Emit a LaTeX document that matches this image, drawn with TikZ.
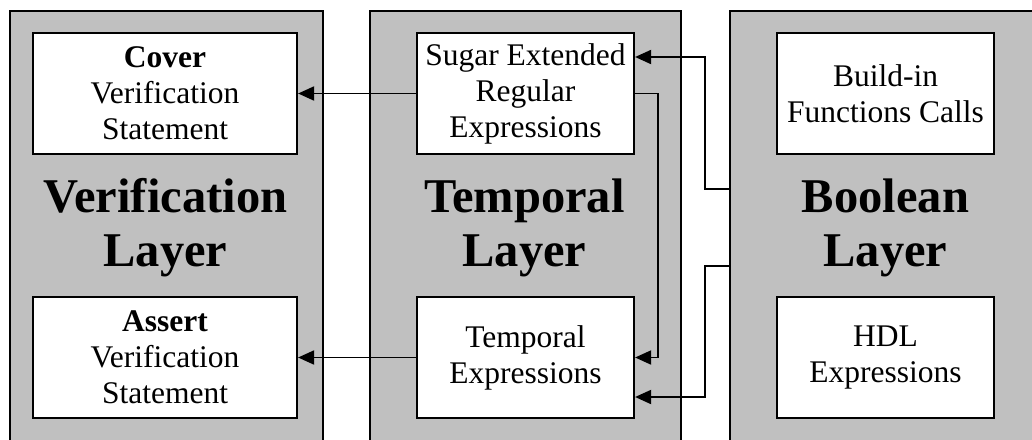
\documentclass[tikz,border=0pt]{standalone}
\usepackage{fontspec}
\setmainfont{Liberation Serif}
\usetikzlibrary{arrows.meta}
\definecolor{layergray}{RGB}{192,192,192}
\begin{document}
\begin{tikzpicture}[x=1pt,y=-1pt,
  layer/.style={draw=black, line width=2.2pt, fill=layergray, anchor=north west, inner sep=0pt},
  item/.style={draw=black, line width=2.2pt, fill=white, minimum width=217pt, minimum height=121pt,
    inner sep=0pt, align=center, font=\fontsize{31.5}{36}\selectfont},
  wideitem/.style={item, minimum width=264pt},
  title/.style={align=center, inner sep=0pt, font=\fontsize{48.5}{54}\selectfont\bfseries},
  link/.style={line width=1.9pt, -{Triangle[length=16pt,width=14pt]}}]

\fill[white] (0,0) rectangle (1032,439);
\useasboundingbox (0,0) rectangle (1032,439);

% the three layers, running off the lower (and right) edge
\node[layer, minimum width=313pt, minimum height=460pt] (vpanel) at (9,10) {};
\node[layer, minimum width=311pt, minimum height=460pt] (tpanel) at (369,10) {};
\node[layer, minimum width=330pt, minimum height=460pt] (bpanel) at (729,10) {};

% layer titles
\node[title] (vtitle) at (165.5,227.5) {Verification\\Layer};
\node[title] (ttitle) at (524.5,227.5) {Temporal\\Layer};
\node[title] (btitle) at (885.5,227.5) {Boolean\\Layer};

% boxes inside the layers
\node[wideitem] (cover)  at (165,93.5) {\textbf{Cover}\\Verification\\Statement};
\node[wideitem] (assert) at (165,357.5) {\textbf{Assert}\\Verification\\Statement};
\node[item] (sugar)    at (525.5,93.5) {Sugar Extended\\Regular\\Expressions};
\node[item] (tempexpr) at (525.5,357.5) {Temporal\\Expressions};
\node[item] (builtin)  at (885.5,93.5) {Build-in\\Functions Calls};
\node[item] (hdl)      at (885.5,357.5) {HDL\\Expressions};

% connectors
\coordinate (bup)   at (729,189);
\coordinate (bdown) at (729,266);

\draw[link] (sugar.west) -- (sugar.west -| cover.east);
\draw[link] (tempexpr.west) -- (tempexpr.west -| assert.east);
\draw[link] (sugar.east) -- ++(23,0) |- (tempexpr.east);
\draw[link] (bup) -- ++(-24,0) |- ([yshift=36.5pt]sugar.east);
\draw[link] (bdown) -- ++(-24,0) |- ([yshift=-39.5pt]tempexpr.east);
\end{tikzpicture}
\end{document}
